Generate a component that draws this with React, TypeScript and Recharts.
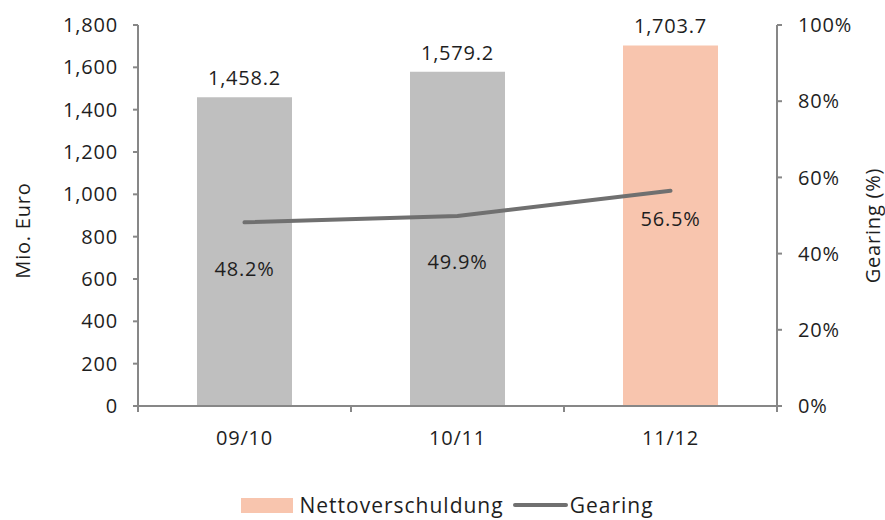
import React from 'react';
import { ComposedChart, Bar, Line, XAxis, YAxis, Cell, LabelList, Legend } from 'recharts';

const categories = ['09/10', '10/11', '11/12'];
const nettoverschuldung = [1458.2, 1579.2, 1703.7];
const gearing = [48.2, 49.9, 56.5];
const leftTicks = [0, 200, 400, 600, 800, 1000, 1200, 1400, 1600, 1800];
const rightTicks = [0, 20, 40, 60, 80, 100];
const barColors = ['#bfbfbf', '#bfbfbf', '#f8c5ae'];

const data = categories.map((c, i) => ({ cat: c, netto: nettoverschuldung[i], gearing: gearing[i] }));

const FONT = '"Open Sans", "Noto Sans", sans-serif';
const AXIS = '#878787';
const TEXT = '#1e1e1e';
const LINE = '#707070';
const SALMON = '#f8c5ae';
const W = 885;
const H = 520;
const LEFT_W = 138;
const RIGHT_W = 108;
const BAND = (W - LEFT_W - RIGHT_W) / categories.length;
const FS = 20;
const LS = 0.8;
const LINE_LABEL_DY = [46, 46, 28];

const fmtNum = (v: number) => v.toLocaleString('en-US', { minimumFractionDigits: 0, maximumFractionDigits: 0 });
const fmtBar = (v: number) => v.toLocaleString('en-US', { minimumFractionDigits: 1, maximumFractionDigits: 1 });

const XTick = (props: any) => {
  const { x, y, payload, index } = props;
  const half = BAND / 2;
  return (
    <g>
      <line x1={x - half} x2={x - half} y1={y} y2={y + 6} stroke={AXIS} strokeWidth={2} />
      {index === categories.length - 1 && (
        <line x1={x + half} x2={x + half} y1={y} y2={y + 6} stroke={AXIS} strokeWidth={2} />
      )}
      <text x={x} y={y + 25} dy="0.71em" textAnchor="middle" fill={TEXT} fontFamily={FONT} fontSize={FS} letterSpacing={LS}>
        {payload.value}
      </text>
    </g>
  );
};

const GearingLabel = (props: any) => {
  const { x, y, value } = props;
  let idx = props.index;
  if (idx === undefined) idx = gearing.indexOf(Number(value));
  const dy = LINE_LABEL_DY[idx] ?? 40;
  return (
    <text x={x} y={y + dy} textAnchor="middle" dominantBaseline="central" fill={TEXT} fontFamily={FONT} fontSize={FS} letterSpacing={LS}>
      {Number(value).toFixed(1)}%
    </text>
  );
};

const LegendContent = () => (
  <div
    style={{
      display: 'flex',
      justifyContent: 'center',
      alignItems: 'center',
      height: 30,
      fontFamily: FONT,
      fontSize: 21,
      letterSpacing: 1,
      color: TEXT,
      paddingLeft: 10,
    }}
  >
    <span style={{ display: 'inline-block', width: 52, height: 15, background: SALMON, marginRight: 6 }} />
    <span>Nettoverschuldung</span>
    <span
      style={{ display: 'inline-block', width: 55, height: 4, background: LINE, borderRadius: 2, margin: '0 2px 0 9px' }}
    />
    <span>Gearing</span>
  </div>
);

const axisTitle = (label: string, dx: number, dy: number) => (p: any) => {
  const vb = p.viewBox || { x: 0, y: 25, width: LEFT_W, height: 381 };
  const cx = vb.x + dx;
  const cy = vb.y + vb.height / 2 + dy;
  return (
    <text
      transform={`translate(${cx},${cy}) rotate(-90)`}
      textAnchor="middle"
      dominantBaseline="central"
      fill={TEXT}
      fontFamily={FONT}
      fontSize={FS}
      letterSpacing={LS}
    >
      {label}
    </text>
  );
};

export default function App() {
  return (
    <div style={{ position: 'absolute', left: 0, top: 0, width: W, height: H, background: '#fff' }}>
      <ComposedChart width={W} height={H} data={data} margin={{ top: 25, right: 0, left: 0, bottom: 0 }}>
        <XAxis
          dataKey="cat"
          height={84}
          axisLine={{ stroke: AXIS, strokeWidth: 2 }}
          tickLine={false}
          tickSize={0}
          tickMargin={0}
          tick={<XTick />}
          interval={0}
        />
        <YAxis
          yAxisId="left"
          width={LEFT_W}
          domain={[0, 1800]}
          ticks={leftTicks}
          tickFormatter={fmtNum}
          axisLine={{ stroke: AXIS, strokeWidth: 2 }}
          tickLine={{ stroke: AXIS, strokeWidth: 2 }}
          tickSize={5}
          tickMargin={15}
          tick={{ fill: TEXT, fontFamily: FONT, fontSize: FS, letterSpacing: LS }}
          interval={0}
          label={{ content: axisTitle('Mio. Euro', 22, 15) }}
        />
        <YAxis
          yAxisId="right"
          orientation="right"
          width={RIGHT_W}
          domain={[0, 100]}
          ticks={rightTicks}
          tickFormatter={(v: number) => `${v}%`}
          axisLine={{ stroke: AXIS, strokeWidth: 2 }}
          tickLine={{ stroke: AXIS, strokeWidth: 2 }}
          tickSize={5}
          tickMargin={16}
          tick={{ fill: TEXT, fontFamily: FONT, fontSize: FS, letterSpacing: LS }}
          interval={0}
          label={{ content: axisTitle('Gearing (%)', 95, 10) }}
        />
        <Legend verticalAlign="bottom" height={30} content={<LegendContent />} />
        <Bar yAxisId="left" dataKey="netto" barSize={95} isAnimationActive={false}>
          {data.map((d, i) => (
            <Cell key={d.cat} fill={barColors[i]} />
          ))}
          <LabelList
            dataKey="netto"
            position="top"
            offset={12}
            formatter={(v: any) => fmtBar(Number(v))}
            fill={TEXT}
            fontFamily={FONT}
            fontSize={FS}
            letterSpacing={LS}
          />
        </Bar>
        <Line
          yAxisId="right"
          dataKey="gearing"
          type="linear"
          stroke={LINE}
          strokeWidth={4}
          strokeLinecap="round"
          dot={false}
          activeDot={false}
          isAnimationActive={false}
        >
          <LabelList dataKey="gearing" content={<GearingLabel />} />
        </Line>
      </ComposedChart>
    </div>
  );
}
